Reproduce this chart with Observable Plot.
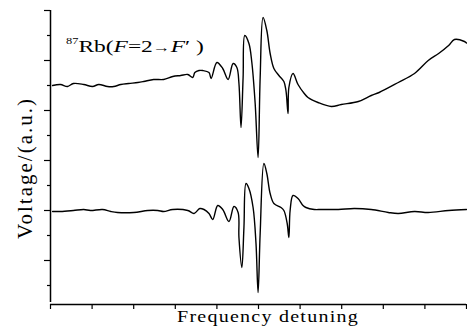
<!DOCTYPE html>
<html>
<head>
<meta charset="utf-8">
<script src="https://cdn.jsdelivr.net/npm/d3@7"></script>
<script src="https://cdn.jsdelivr.net/npm/@observablehq/plot@0.6"></script>
<style>
  html, body { margin: 0; padding: 0; background: #fff; }
</style>
</head>
<body>
<div id="chart"></div>
<script>
// Frequency detuning (arbitrary units) and voltage (a.u.)
const detuningTop = [0.05,0.24,0.41,0.55,0.80,1.01,1.16,1.37,1.52,1.69,1.88,2.10,2.24,2.48,2.72,2.94,3.13,3.30,3.42,3.47,3.57,3.66,3.81,3.86,4.00,4.14,4.27,4.39,4.48,4.53,4.58,4.63,4.67,4.77,4.84,4.92,4.99,5.04,5.11,5.20,5.28,5.37,5.49,5.61,5.66,5.71,5.73,5.83,5.95,6.10,6.19,6.43,6.75,6.99,7.40,7.71,7.90,8.36,8.75,9.08,9.33,9.57,9.71,9.95,10.0];
const voltageTop  = [8.00,8.04,7.96,8.08,8.04,7.96,8.04,7.96,7.96,8.04,8.08,8.12,8.16,8.24,8.24,8.36,8.40,8.44,8.32,8.52,8.60,8.60,8.52,8.28,8.92,8.68,8.24,8.88,8.72,8.08,6.32,8.32,10.00,9.68,8.92,7.28,5.12,8.32,10.72,10.20,9.28,8.68,8.40,8.16,7.80,6.88,7.92,8.48,8.04,7.68,7.52,7.32,7.16,7.24,7.36,7.60,7.72,8.12,8.48,9.00,9.28,9.60,9.84,9.76,9.70];

const detuningBottom = [0.05,0.24,0.55,0.80,0.96,1.25,1.45,1.61,2.00,2.34,2.58,2.72,2.94,3.30,3.45,3.59,3.69,3.81,3.90,4.02,4.14,4.29,4.41,4.51,4.53,4.60,4.65,4.70,4.77,4.87,4.94,4.99,5.04,5.13,5.20,5.28,5.37,5.54,5.61,5.69,5.73,5.76,5.83,5.95,6.07,6.14,6.34,6.51,6.92,7.30,7.71,8.12,8.36,8.75,9.08,9.57,10.0];
const voltageBottom  = [2.96,2.96,3.00,3.04,3.00,3.04,2.96,2.92,2.92,3.00,3.00,2.96,3.04,3.00,2.88,3.08,3.04,2.88,2.64,3.20,3.04,2.56,3.16,2.92,1.92,0.72,2.32,4.08,3.88,3.12,1.68,-0.28,2.08,4.88,4.48,3.68,3.28,3.12,3.00,2.48,1.92,3.00,3.60,3.48,3.20,3.12,3.04,3.04,3.04,3.08,3.04,2.92,2.88,2.96,2.92,3.00,3.04];

const xTicks = [0,1,2,3,4,5,6,7,8,9,10];
const yMajorTicks = [1,3,5,7,9,11];
const yMinorTicks = [0,2,4,6,8,10];

const topData = detuningTop.map((x, i) => ({x, y: voltageTop[i]}));
const bottomData = detuningBottom.map((x, i) => ({x, y: voltageBottom[i]}));

const yMin = -0.76, yMax = 11;

const plot = Plot.plot({
  width: 467,
  height: 336,
  marginLeft: 50,
  marginRight: 1,
  marginTop: 10,
  marginBottom: 32,
  x: {domain: [0, 10]},
  y: {domain: [yMin, yMax]},
  style: {fontFamily: "Liberation Serif", background: "#fff", color: "#000"},
  marks: [
    Plot.axisX({ticks: xTicks, tickSize: 5, tickFormat: () => "", label: null, strokeWidth: 1.2}),
    Plot.axisY({ticks: yMajorTicks, tickSize: 6, tickFormat: () => "", label: null, strokeWidth: 1.2}),
    Plot.axisY({ticks: yMinorTicks, tickSize: 3, tickFormat: () => "", label: null, strokeWidth: 1.2}),
    Plot.ruleY([yMin], {stroke: "#000", strokeWidth: 1.5}),
    Plot.ruleX([0], {y1: -0.68, y2: yMax, stroke: "#000", strokeWidth: 1.5}),
    Plot.line(topData, {x: "x", y: "y", stroke: "#000", strokeWidth: 1.4, curve: "catmull-rom"}),
    Plot.line(bottomData, {x: "x", y: "y", stroke: "#000", strokeWidth: 1.4, curve: "catmull-rom"})
  ]
});

document.getElementById("chart").appendChild(plot);

const svg = d3.select(plot);
// x-axis title
svg.append("text")
  .attr("transform", "translate(268,322) scale(1.25,1)")
  .attr("text-anchor", "middle")
  .style("font-family", "Liberation Serif")
  .style("font-size", "16px")
  .style("letter-spacing", "1px")
  .attr("fill", "#000")
  .text("Frequency detuning");
// y-axis title
svg.append("text")
  .attr("transform", "translate(32,168) rotate(-90)")
  .attr("text-anchor", "middle")
  .style("font-family", "Liberation Serif")
  .style("font-size", "21px")
  .style("letter-spacing", "2px")
  .attr("fill", "#000")
  .text("Voltage/(a.u.)");
// annotation
const ann = svg.append("text")
  .attr("transform", "translate(66,52) scale(1.38,1)")
  .attr("text-anchor", "start")
  .style("font-family", "Liberation Serif")
  .style("font-size", "17px")
  .attr("fill", "#000");
ann.append("tspan").style("font-size", "9px").attr("dy", -8).text("87");
ann.append("tspan").attr("dy", 8).text("Rb(");
ann.append("tspan").style("font-style", "italic").text("F");
ann.append("tspan").text("=2");
ann.append("tspan").style("font-size", "13px").text("\u2192");
ann.append("tspan").style("font-style", "italic").text("F");
ann.append("tspan").text("\u2032 )");
</script>
</body>
</html>
